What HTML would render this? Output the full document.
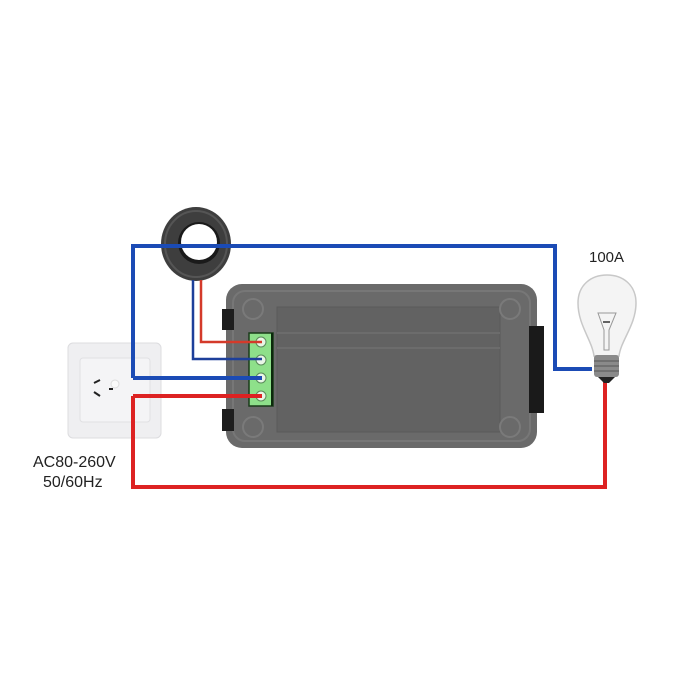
<!DOCTYPE html>
<html><head><style>
html,body{margin:0;padding:0;background:#fff;width:700px;height:700px;overflow:hidden}
</style></head><body>
<svg width="700" height="700" viewBox="0 0 700 700" xmlns="http://www.w3.org/2000/svg">
<rect width="700" height="700" fill="#fff"/>
<!-- socket -->
<rect x="68" y="343" width="93" height="95" rx="5" fill="#efeff1" stroke="#dcdcdf"/>
<rect x="80" y="358" width="70" height="64" rx="3" fill="#f4f4f6" stroke="#e0e0e3"/>
<line x1="94" y1="383" x2="100" y2="380" stroke="#222" stroke-width="2"/>
<line x1="94" y1="392" x2="100" y2="396" stroke="#222" stroke-width="2"/>
<line x1="109" y1="389" x2="113" y2="389" stroke="#222" stroke-width="2"/>
<circle cx="115" cy="384" r="4" fill="#fafafa" stroke="#ddd"/>
<!-- device -->
<rect x="226" y="284" width="311" height="164" rx="16" fill="#6a6a6a"/>
<rect x="233" y="291" width="297" height="150" rx="12" fill="none" stroke="#777" stroke-width="2"/>
<rect x="277" y="307" width="223" height="125" fill="#626262" stroke="#5a5a5a"/>
<line x1="277" y1="333" x2="500" y2="333" stroke="#6c6c6c" stroke-width="2"/>
<line x1="277" y1="348" x2="500" y2="348" stroke="#6c6c6c" stroke-width="2"/>
<g fill="none" stroke="#7a7a7a" stroke-width="2">
<circle cx="253" cy="309" r="10"/><circle cx="510" cy="309" r="10"/>
<circle cx="253" cy="427" r="10"/><circle cx="510" cy="427" r="10"/>
</g>
<rect x="222" y="309" width="12" height="21" fill="#1e1e1e"/>
<rect x="222" y="409" width="12" height="22" fill="#1e1e1e"/>
<rect x="529" y="326" width="15" height="87" fill="#1a1a1a"/>
<!-- terminal -->
<rect x="249" y="333" width="24" height="73" fill="#8ee08a" stroke="#1a3a1a" stroke-width="1.5"/>
<line x1="272" y1="333" x2="272" y2="406" stroke="#0b2a0b" stroke-width="2"/>
<g fill="#e8f6e6" stroke="#5a8a5a"><circle cx="261" cy="342" r="5"/><circle cx="261" cy="360" r="5"/><circle cx="261" cy="378" r="5"/><circle cx="261" cy="396" r="5"/></g>
<!-- toroid -->
<ellipse cx="196" cy="244" rx="35" ry="37" fill="#3e3e3e"/>
<ellipse cx="196" cy="244" rx="31" ry="33" fill="none" stroke="#555" stroke-width="2"/>
<circle cx="199" cy="243" r="21" fill="#1a1a1a"/>
<circle cx="199" cy="242" r="18" fill="#fff"/>
<!-- wires -->
<g fill="none" stroke-width="4" stroke-linejoin="miter">
<polyline points="133,378 133,246 555,246 555,369 592,369" stroke="#1b4bb5"/>
<polyline points="133,378 262,378" stroke="#1b4bb5"/>
<polyline points="133,396 262,396" stroke="#dd2222"/>
<polyline points="133,396 133,487 605,487 605,378" stroke="#dd2222"/>
</g>
<g fill="none" stroke-width="2.5">
<polyline points="193,280 193,359 262,359" stroke="#1d3f9a"/>
<polyline points="201,280 201,342 262,342" stroke="#d43a2a"/>
</g>
<!-- bulb -->
<path d="M594,356 C592,340 578,325 578,303 C578,285 591,275 607,275 C623,275 636,285 636,303 C636,325 621,340 619,356 Z" fill="#f4f4f4" stroke="#c8c8c8" stroke-width="1.5"/>
<path d="M598,313 L616,313 L609,330 L609,350 L604,350 L604,330 Z" fill="none" stroke="#999" stroke-width="1"/>
<line x1="603" y1="322" x2="610" y2="322" stroke="#333" stroke-width="1.5"/>
<rect x="594" y="355" width="25" height="22" rx="3" fill="#8a8a8a"/>
<g stroke="#555" stroke-width="1"><line x1="594" y1="361" x2="619" y2="361"/><line x1="594" y1="366" x2="619" y2="366"/><line x1="594" y1="371" x2="619" y2="371"/></g>
<path d="M598,377 L615,377 L609,383 L604,383 Z" fill="#222"/>
<!-- text -->
<text x="589" y="262" font-family="Liberation Sans, sans-serif" font-size="15" fill="#222">100A</text>
<text x="33" y="467" font-family="Liberation Sans, sans-serif" font-size="16" fill="#222">AC80-260V</text>
<text x="43" y="487" font-family="Liberation Sans, sans-serif" font-size="16" fill="#222">50/60Hz</text>
</svg>
</body></html>
